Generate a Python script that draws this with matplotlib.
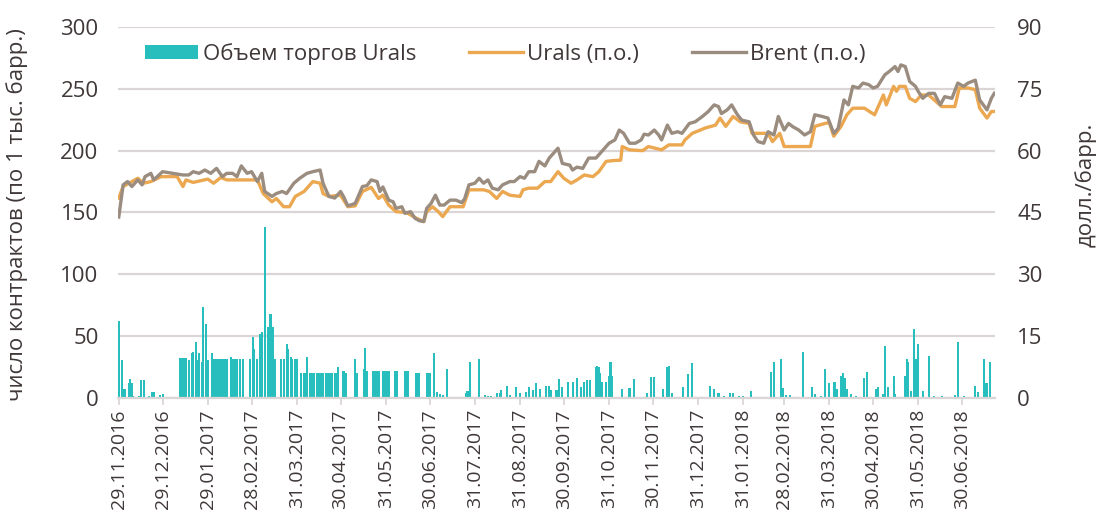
import matplotlib
matplotlib.use("Agg")
import matplotlib.pyplot as plt
import pandas as pd

plt.rcParams['font.family'] = ['Open Sans', 'DejaVu Sans']

TEXT = '#403838'
GRID = '#DCD5D5'
TEAL = '#29BEBE'
ORANGE = '#EBA850'
TAUPE = '#9B8C80'

tick_labels = ['29.11.2016', '29.12.2016', '29.01.2017', '28.02.2017', '31.03.2017',
               '30.04.2017', '31.05.2017', '30.06.2017', '31.07.2017', '31.08.2017',
               '30.09.2017', '31.10.2017', '30.11.2017', '31.12.2017', '31.01.2018',
               '28.02.2018', '31.03.2018', '30.04.2018', '31.05.2018', '30.06.2018']

# Brent, $/bbl (right axis)
brent_dates = ['2016-11-29', '2016-12-02', '2016-12-05', '2016-12-08', '2016-12-12', '2016-12-15',
               '2016-12-17', '2016-12-21', '2016-12-23', '2016-12-29', '2017-01-05', '2017-01-12',
               '2017-01-16', '2017-01-19', '2017-01-23', '2017-01-27', '2017-01-31', '2017-02-04',
               '2017-02-08', '2017-02-11', '2017-02-15', '2017-02-18', '2017-02-21', '2017-02-25',
               '2017-02-28', '2017-03-04', '2017-03-07', '2017-03-09', '2017-03-14', '2017-03-17',
               '2017-03-21', '2017-03-24', '2017-03-29', '2017-04-02', '2017-04-07', '2017-04-11',
               '2017-04-16', '2017-04-18', '2017-04-22', '2017-04-26', '2017-04-30', '2017-05-02',
               '2017-05-05', '2017-05-10', '2017-05-15', '2017-05-18', '2017-05-21', '2017-05-25',
               '2017-05-27', '2017-05-29', '2017-06-02', '2017-06-05', '2017-06-07', '2017-06-11',
               '2017-06-13', '2017-06-17', '2017-06-20', '2017-06-23', '2017-06-26', '2017-06-28',
               '2017-07-01', '2017-07-04', '2017-07-07', '2017-07-10', '2017-07-14', '2017-07-18',
               '2017-07-22', '2017-07-24', '2017-07-27', '2017-07-31', '2017-08-03', '2017-08-06',
               '2017-08-09', '2017-08-12', '2017-08-16', '2017-08-19', '2017-08-24', '2017-08-27',
               '2017-08-31', '2017-09-03', '2017-09-06', '2017-09-10', '2017-09-13', '2017-09-17',
               '2017-09-20', '2017-09-24', '2017-09-26', '2017-09-29', '2017-10-04', '2017-10-06',
               '2017-10-09', '2017-10-13', '2017-10-17', '2017-10-22', '2017-10-27', '2017-10-31',
               '2017-11-04', '2017-11-07', '2017-11-10', '2017-11-14', '2017-11-18', '2017-11-22',
               '2017-11-24', '2017-11-27', '2017-12-01', '2017-12-04', '2017-12-06', '2017-12-10',
               '2017-12-13', '2017-12-17', '2017-12-20', '2017-12-25', '2017-12-29', '2018-01-03',
               '2018-01-07', '2018-01-11', '2018-01-14', '2018-01-16', '2018-01-20', '2018-01-23',
               '2018-01-27', '2018-01-30', '2018-02-04', '2018-02-07', '2018-02-10', '2018-02-14',
               '2018-02-17', '2018-02-21', '2018-02-24', '2018-02-28', '2018-03-03', '2018-03-06',
               '2018-03-10', '2018-03-14', '2018-03-18', '2018-03-21', '2018-03-26', '2018-03-30',
               '2018-04-03', '2018-04-06', '2018-04-10', '2018-04-13', '2018-04-16', '2018-04-20',
               '2018-04-23', '2018-04-27', '2018-04-30', '2018-05-03', '2018-05-08', '2018-05-11',
               '2018-05-15', '2018-05-17', '2018-05-19', '2018-05-22', '2018-05-25', '2018-05-29',
               '2018-05-31', '2018-06-03', '2018-06-07', '2018-06-11', '2018-06-15', '2018-06-18',
               '2018-06-23', '2018-06-27', '2018-07-01', '2018-07-04', '2018-07-09', '2018-07-12',
               '2018-07-17', '2018-07-20', '2018-07-22']
brent_vals = [43.9, 51.7, 52.5, 51.3, 52.9, 51.7,
              53.7, 54.5, 52.9, 54.9, 54.5, 54.1,
              54.1, 54.9, 54.5, 55.3, 54.5, 55.7,
              53.7, 54.5, 54.5, 53.7, 56.3, 54.5,
              54.9, 52.5, 54.5, 50.1, 48.9, 49.6,
              50.1, 49.6, 52.1, 53.3, 54.5, 54.9,
              55.3, 52.1, 48.9, 48.5, 50.1, 48.9,
              46.6, 47.2, 51.3, 51.5, 52.9, 52.5,
              50.1, 51.2, 48.0, 47.6, 46.0, 46.4,
              44.8, 45.2, 43.6, 43.0, 42.8, 46.0,
              47.2, 49.2, 46.8, 46.8, 48.0, 48.0,
              47.4, 48.3, 51.7, 52.1, 53.3, 52.1,
              52.9, 50.9, 50.5, 51.7, 52.5, 52.5,
              53.7, 53.3, 54.9, 54.9, 57.4, 56.3,
              58.2, 59.8, 60.6, 56.9, 56.5, 55.3,
              56.0, 55.7, 58.2, 58.2, 60.2, 61.8,
              62.6, 65.0, 64.2, 61.8, 61.8, 62.6,
              64.0, 63.8, 65.0, 63.8, 62.6, 66.2,
              64.2, 64.6, 64.2, 66.6, 67.0, 68.3,
              69.5, 71.1, 70.7, 69.0, 69.9, 71.1,
              68.7, 67.4, 67.0, 63.8, 62.2, 61.8,
              64.6, 63.8, 68.3, 65.0, 66.6, 65.8,
              65.0, 63.8, 64.6, 68.7, 68.3, 67.9,
              64.2, 65.4, 72.3, 71.1, 75.6, 75.2,
              76.4, 76.0, 75.2, 75.6, 78.4, 79.2,
              80.4, 79.2, 80.8, 80.4, 76.8, 75.6,
              74.3, 72.7, 73.9, 73.9, 71.1, 73.1,
              72.7, 76.4, 75.6, 76.4, 77.1, 72.3,
              69.9, 72.7, 73.9]

# Urals, $/bbl (right axis)
urals_dates = ['2016-11-29', '2016-12-02', '2016-12-12', '2016-12-16', '2016-12-21', '2016-12-28',
               '2017-01-08', '2017-01-12', '2017-01-14', '2017-01-19', '2017-01-29', '2017-02-02',
               '2017-02-07', '2017-02-11', '2017-02-23', '2017-03-04', '2017-03-08', '2017-03-14',
               '2017-03-17', '2017-03-22', '2017-03-26', '2017-03-30', '2017-04-05', '2017-04-11',
               '2017-04-16', '2017-04-18', '2017-04-22', '2017-04-30', '2017-05-05', '2017-05-10',
               '2017-05-15', '2017-05-21', '2017-05-26', '2017-05-29', '2017-06-02', '2017-06-07',
               '2017-06-14', '2017-06-21', '2017-06-26', '2017-06-28', '2017-07-02', '2017-07-06',
               '2017-07-09', '2017-07-14', '2017-07-23', '2017-07-27', '2017-08-01', '2017-08-06',
               '2017-08-10', '2017-08-15', '2017-08-19', '2017-08-24', '2017-08-31', '2017-09-02',
               '2017-09-06', '2017-09-12', '2017-09-17', '2017-09-21', '2017-09-26', '2017-09-30',
               '2017-10-05', '2017-10-09', '2017-10-14', '2017-10-20', '2017-10-24', '2017-10-29',
               '2017-11-03', '2017-11-08', '2017-11-09', '2017-11-14', '2017-11-23', '2017-11-27',
               '2017-12-06', '2017-12-11', '2017-12-20', '2017-12-22', '2017-12-27', '2018-01-05',
               '2018-01-12', '2018-01-15', '2018-01-19', '2018-01-24', '2018-01-29', '2018-02-04',
               '2018-02-06', '2018-02-17', '2018-02-20', '2018-02-25', '2018-02-28', '2018-03-10',
               '2018-03-18', '2018-03-21', '2018-03-28', '2018-03-31', '2018-04-03', '2018-04-08',
               '2018-04-12', '2018-04-16', '2018-04-24', '2018-05-01', '2018-05-07', '2018-05-09',
               '2018-05-14', '2018-05-16', '2018-05-18', '2018-05-22', '2018-05-25', '2018-05-29',
               '2018-06-02', '2018-06-07', '2018-06-16', '2018-06-25', '2018-06-28', '2018-07-04',
               '2018-07-09', '2018-07-12', '2018-07-17', '2018-07-20', '2018-07-22']
urals_vals = [48.5, 51.3, 53.3, 52.1, 52.5, 53.7,
              53.7, 51.3, 52.9, 52.3, 53.1, 52.1,
              53.5, 52.9, 52.9, 52.9, 49.6, 47.6,
              48.4, 46.4, 46.4, 48.9, 50.1, 52.5,
              52.1, 49.6, 48.9, 49.2, 46.4, 46.6,
              50.1, 51.1, 48.4, 49.2, 46.8, 45.2,
              45.0, 43.6, 42.8, 45.2, 46.4, 45.2,
              44.0, 46.4, 46.4, 50.5, 50.5, 50.5,
              50.1, 48.4, 50.1, 49.2, 48.9, 50.5,
              50.9, 50.9, 52.5, 52.5, 54.9, 53.3,
              52.1, 52.9, 54.1, 53.7, 54.9, 57.4,
              57.6, 57.7, 61.0, 60.2, 60.0, 61.0,
              60.2, 61.4, 61.4, 62.6, 64.2, 65.5,
              66.2, 67.9, 65.9, 68.3, 67.0, 66.6,
              64.2, 64.2, 62.2, 64.2, 61.0, 61.0,
              61.0, 65.9, 66.6, 66.8, 63.5, 65.9,
              68.7, 70.3, 70.3, 68.7, 73.5, 71.1,
              75.6, 74.4, 75.6, 75.6, 72.7, 71.9,
              73.5, 73.5, 70.7, 70.7, 75.2, 75.2,
              74.8, 70.3, 67.9, 69.5, 69.5]

# Urals trading volume, contracts (left axis)
vol_dates = ['2016-11-29', '2016-12-01', '2016-12-02', '2016-12-03', '2016-12-06', '2016-12-07',
             '2016-12-08', '2016-12-09', '2016-12-13', '2016-12-14', '2016-12-16', '2016-12-20',
             '2016-12-22', '2016-12-23', '2016-12-27', '2016-12-29',
             '2017-01-10', '2017-01-11', '2017-01-12', '2017-01-13', '2017-01-14', '2017-01-16',
             '2017-01-18', '2017-01-19', '2017-01-21', '2017-01-22', '2017-01-23', '2017-01-25',
             '2017-01-26', '2017-01-28', '2017-01-29', '2017-02-01',
             '2017-02-02', '2017-02-03', '2017-02-04', '2017-02-05', '2017-02-06', '2017-02-07',
             '2017-02-08', '2017-02-09', '2017-02-10', '2017-02-11', '2017-02-14', '2017-02-15',
             '2017-02-16', '2017-02-17', '2017-02-18', '2017-02-20', '2017-02-22', '2017-02-27',
             '2017-03-01', '2017-03-02', '2017-03-04', '2017-03-06', '2017-03-07', '2017-03-09',
             '2017-03-11', '2017-03-12', '2017-03-13', '2017-03-15', '2017-03-16', '2017-03-20',
             '2017-03-22', '2017-03-24', '2017-03-25', '2017-03-27', '2017-03-28', '2017-03-30',
             '2017-03-31', '2017-04-03', '2017-04-05', '2017-04-06', '2017-04-07',
             '2017-04-09', '2017-04-10', '2017-04-11', '2017-04-12', '2017-04-14', '2017-04-15',
             '2017-04-16', '2017-04-17', '2017-04-18', '2017-04-20', '2017-04-21', '2017-04-22',
             '2017-04-23', '2017-04-24', '2017-04-26', '2017-04-27', '2017-04-28',
             '2017-05-02', '2017-05-04', '2017-05-10', '2017-05-11', '2017-05-16', '2017-05-17',
             '2017-05-18', '2017-05-22', '2017-05-23', '2017-05-24', '2017-05-25', '2017-05-26',
             '2017-05-29', '2017-05-30', '2017-05-31', '2017-06-01', '2017-06-02',
             '2017-06-06', '2017-06-07', '2017-06-08', '2017-06-13', '2017-06-14', '2017-06-15',
             '2017-06-21', '2017-06-22', '2017-06-23', '2017-06-28', '2017-06-29', '2017-06-30',
             '2017-07-03', '2017-07-05', '2017-07-07', '2017-07-09', '2017-07-12', '2017-07-25',
             '2017-07-26', '2017-07-28', '2017-08-03', '2017-08-07', '2017-08-09', '2017-08-11',
             '2017-08-15', '2017-08-17', '2017-08-18', '2017-08-22', '2017-08-24', '2017-08-28',
             '2017-08-31', '2017-09-04', '2017-09-06', '2017-09-09', '2017-09-11', '2017-09-14',
             '2017-09-18', '2017-09-20', '2017-09-21', '2017-09-25', '2017-09-27', '2017-09-29',
             '2017-10-03', '2017-10-06', '2017-10-09', '2017-10-12', '2017-10-14', '2017-10-16',
             '2017-10-18', '2017-10-22', '2017-10-23', '2017-10-24', '2017-10-25', '2017-10-26',
             '2017-10-29', '2017-10-31', '2017-11-01', '2017-11-02', '2017-11-09', '2017-11-14',
             '2017-11-17', '2017-11-26', '2017-11-29', '2017-12-01', '2017-12-07', '2017-12-10',
             '2017-12-11', '2017-12-13', '2017-12-21', '2017-12-24', '2017-12-27',
             '2018-01-08', '2018-01-11', '2018-01-14', '2018-01-18', '2018-01-22', '2018-01-24',
             '2018-01-28', '2018-01-31', '2018-02-05', '2018-02-19', '2018-02-21', '2018-02-26',
             '2018-02-27', '2018-03-01', '2018-03-04', '2018-03-13', '2018-03-19', '2018-03-21',
             '2018-03-25', '2018-03-28', '2018-03-31', '2018-04-03', '2018-04-04', '2018-04-05',
             '2018-04-08', '2018-04-09', '2018-04-11', '2018-04-12', '2018-04-15', '2018-04-18',
             '2018-04-24', '2018-04-26', '2018-05-02', '2018-05-03', '2018-05-07', '2018-05-08',
             '2018-05-10', '2018-05-14', '2018-05-15', '2018-05-22', '2018-05-23', '2018-05-24',
             '2018-05-26', '2018-05-28', '2018-05-29', '2018-05-31', '2018-06-03', '2018-06-07',
             '2018-06-11', '2018-06-16', '2018-06-25', '2018-06-27', '2018-07-01', '2018-07-09',
             '2018-07-11', '2018-07-15', '2018-07-16', '2018-07-17', '2018-07-19']
vol_vals = [62.5, 30.7, 7.0, 7.0, 11.9, 15.0,
            12.0, 2.0, 2.0, 14.6, 14.6, 2.0,
            4.6, 5.0, 2.5, 3.5,
            32.1, 32.1, 32.1, 32.1, 32.1, 30.7,
            36.0, 37.5, 45.5, 31.0, 36.3, 29.0,
            73.8, 59.8, 31.0, 36.0,
            31.3, 31.3, 31.3, 31.3, 31.3, 31.3,
            31.3, 31.3, 31.3, 31.3, 33.4, 31.3,
            31.3, 31.3, 31.3, 31.3, 31.3, 31.3,
            49.6, 39.5, 31.3, 51.7, 53.6, 138.0,
            57.6, 31.3, 67.9, 57.6, 31.3, 31.3,
            31.3, 43.7, 40.0, 33.4, 31.3, 31.3,
            31.3, 20.0, 20.0, 20.0, 33.4,
            20.0, 20.0, 20.0, 20.0, 20.0, 20.0,
            20.0, 20.0, 20.0, 20.0, 20.0, 20.0,
            20.0, 20.0, 20.0, 20.0, 25.3,
            21.6, 20.0, 31.3, 20.0, 23.7, 40.1,
            22.0, 21.6, 21.6, 21.6, 21.6, 21.6,
            22.0, 22.0, 22.0, 22.0, 22.0,
            21.6, 21.6, 21.6, 21.6, 21.6, 21.6,
            20.0, 20.0, 20.0, 20.0, 20.0, 20.0,
            36.1, 5.2, 3.5, 2.7, 23.7, 3.8,
            5.4, 29.4, 31.8, 2.7, 2.0, 1.5,
            3.8, 3.8, 6.5, 9.7, 2.7, 8.6,
            3.8, 4.5, 9.2, 6.5, 11.9, 7.0,
            9.7, 9.7, 6.5, 6.5, 15.6, 8.6,
            13.2, 13.2, 16.4, 8.6, 13.2, 14.5,
            14.5, 25.3, 25.9, 25.3, 20.0, 13.0,
            13.2, 17.8, 29.4, 17.8, 7.0, 8.0,
            15.4, 3.8, 17.0, 17.0, 7.0, 25.3,
            25.9, 3.8, 8.6, 19.5, 28.1,
            9.7, 7.0, 3.8, 2.0, 3.8, 3.8,
            2.0, 2.0, 5.9, 21.3, 29.4, 31.3,
            7.8, 2.5, 2.5, 37.5, 9.2, 3.0,
            1.5, 23.2, 11.9, 13.2, 13.2, 7.0,
            17.8, 19.9, 16.1, 7.0, 3.0, 1.5,
            15.9, 21.3, 7.0, 8.5, 3.0, 42.0,
            8.5, 17.8, 3.0, 17.8, 31.3, 29.4,
            6.0, 55.5, 31.3, 43.7, 6.0, 34.0,
            2.0, 2.0, 2.5, 45.5, 1.5, 9.4,
            5.0, 31.3, 11.9, 11.9, 29.4]

fig = plt.figure(figsize=(10.98, 5.17), dpi=100)
ax = fig.add_axes([0.1075, 0.2302, 0.7987, 0.7176])

bars = ax.bar(pd.to_datetime(vol_dates), vol_vals, width=1.4, color=TEAL,
              label='Объем торгов Urals', zorder=2)
ax.set_ylim(0, 300)
ax.set_yticks(range(0, 301, 50))
ax.yaxis.grid(True, color=GRID, linewidth=1.6, zorder=0)
ax.set_axisbelow(True)
for s in ['top', 'left', 'right']:
    ax.spines[s].set_visible(False)
ax.spines['bottom'].set_color(GRID)
ax.spines['bottom'].set_linewidth(1.6)

ticks = pd.to_datetime(tick_labels, format='%d.%m.%Y')
ax.set_xticks(ticks)
ax.set_xticklabels(tick_labels, rotation=90, va='top', ha='center')
ax.set_xlim(pd.Timestamp('2016-11-28 12:00'), pd.Timestamp('2018-07-22 12:00'))
ax.tick_params(axis='x', length=5, width=1.3, color=GRID, pad=3, labelsize=14, labelcolor=TEXT)
ax.tick_params(axis='y', length=0, pad=14, labelsize=16, labelcolor=TEXT)

ax2 = ax.twinx()
l1, = ax2.plot(pd.to_datetime(urals_dates), urals_vals, color=ORANGE, lw=2.4,
               label='Urals (п.о.)', solid_joinstyle='round')
l2, = ax2.plot(pd.to_datetime(brent_dates), brent_vals, color=TAUPE, lw=2.4,
               label='Brent (п.о.)', solid_joinstyle='round')
ax2.set_ylim(0, 90)
ax2.set_yticks(range(0, 91, 15))
for s in ax2.spines.values():
    s.set_visible(False)
ax2.tick_params(axis='y', length=0, pad=16, labelsize=16, labelcolor=TEXT)

fig.text(17 / 1098, 1 - 215 / 517, 'число контрактов (по 1 тыс. барр.)', rotation=90,
         ha='center', va='center', fontsize=16, color=TEXT)
fig.text(1086 / 1098, 1 - 185 / 517, 'долл./барр.', rotation=90,
         ha='center', va='center', fontsize=16, color=TEXT)

fig.legend(handles=[bars, l1, l2], loc='center left', bbox_to_anchor=(145 / 1098, 1 - 54 / 517),
           ncol=3, frameon=False, fontsize=16, labelcolor=TEXT, borderpad=0, borderaxespad=0,
           handlelength=2.4, handletextpad=0.2, columnspacing=2.4, handleheight=0.6)

fig.savefig('out.png', dpi=100)
